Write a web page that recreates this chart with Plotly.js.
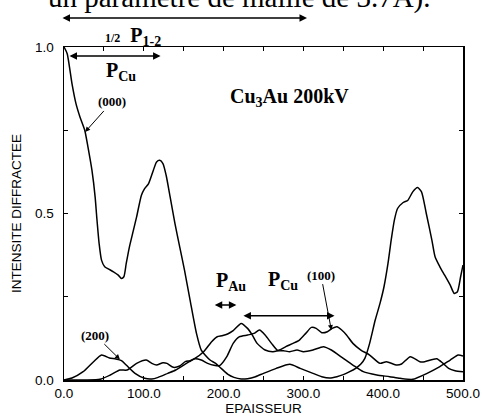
<!DOCTYPE html>
<html>
<head>
<meta charset="utf-8">
<script src="https://cdn.plot.ly/plotly-3.0.1.min.js"></script>
<style>body{margin:0;padding:0;background:#fff}#chart{width:482px;height:420px}</style>
</head>
<body>
<div id="chart"></div>
<script>
// thickness (EPAISSEUR) and diffracted intensity for each beam
var x000 = [0, 4, 10, 15, 20, 26, 30, 35, 39, 41, 44, 47, 51, 56, 62, 68, 72, 75, 78, 82, 87, 91, 97, 101, 106, 112, 116, 120, 124, 128, 133, 139, 145, 151, 158, 166, 172, 183, 190, 197, 205, 213, 222, 230, 240, 250, 266, 283, 296, 312, 323, 333, 342, 350, 358, 366, 372, 377, 383, 390, 396, 401, 406, 410, 414, 418, 425, 431, 437, 443, 448, 454, 461, 465, 471, 477, 484, 489, 493, 497, 500];
var y000 = [1.0, 0.98, 0.89, 0.83, 0.79, 0.75, 0.70, 0.63, 0.55, 0.49, 0.41, 0.36, 0.34, 0.333, 0.325, 0.315, 0.305, 0.31, 0.35, 0.40, 0.45, 0.49, 0.555, 0.575, 0.59, 0.63, 0.655, 0.66, 0.65, 0.615, 0.55, 0.47, 0.40, 0.33, 0.24, 0.14, 0.09, 0.06, 0.05, 0.035, 0.018, 0.008, 0.003, 0.004, 0.01, 0.02, 0.035, 0.047, 0.035, 0.02, 0.01, 0.006, 0.01, 0.016, 0.025, 0.036, 0.048, 0.065, 0.11, 0.18, 0.23, 0.28, 0.35, 0.42, 0.48, 0.515, 0.533, 0.54, 0.565, 0.578, 0.565, 0.50, 0.42, 0.37, 0.34, 0.315, 0.285, 0.26, 0.265, 0.31, 0.345];

var x100 = [0, 20, 28, 45, 58, 70, 79, 91, 103, 110, 116, 124, 129, 137, 145, 152, 158, 164, 175, 185, 192, 198, 205, 212, 222, 230, 236, 242, 252, 262, 270, 278, 287, 295, 303, 310, 316, 323, 330, 336, 342, 348, 354, 362, 372, 383, 396, 404, 417, 423, 434, 446, 452, 467, 475, 482, 490, 500];
var y100 = [0, 0, 0, 0.002, 0.015, 0.03, 0.03, 0.05, 0.06, 0.05, 0.045, 0.052, 0.05, 0.038, 0.042, 0.055, 0.058, 0.065, 0.085, 0.115, 0.13, 0.133, 0.138, 0.148, 0.17, 0.155, 0.135, 0.11, 0.09, 0.085, 0.09, 0.1, 0.11, 0.12, 0.14, 0.158, 0.155, 0.142, 0.145, 0.155, 0.16, 0.15, 0.135, 0.11, 0.09, 0.075, 0.05, 0.055, 0.045, 0.048, 0.07, 0.055, 0.055, 0.064, 0.05, 0.035, 0.028, 0.025];

var x200 = [0, 10, 24, 37, 47, 57, 65, 72, 78, 89, 101, 110, 118, 130, 140, 150, 157, 164, 172, 180, 188, 195, 204, 212, 220, 230, 238, 245, 252, 260, 268, 275, 283, 292, 300, 312, 325, 335, 350, 362, 375, 392, 408, 421, 437, 455, 471, 484, 494, 500];
var y200 = [0, 0.006, 0.025, 0.055, 0.075, 0.066, 0.063, 0.058, 0.045, 0.02, 0.005, 0.003, 0.008, 0.02, 0.03, 0.045, 0.055, 0.064, 0.06, 0.05, 0.044, 0.043, 0.07, 0.11, 0.13, 0.135, 0.14, 0.15, 0.135, 0.11, 0.088, 0.088, 0.085, 0.09, 0.085, 0.09, 0.1, 0.09, 0.065, 0.045, 0.025, 0.015, 0.01, 0.005, 0.002, 0.02, 0.04, 0.06, 0.075, 0.072];

var xTickVals = [0, 50, 100, 150, 200, 250, 300, 350, 400, 450, 500];
var xTickText = ['0.0', '', '100.0', '', '200.0', '', '300.0', '', '400.0', '', '500.0'];
var yTickVals = [0, 0.25, 0.5, 0.75, 1.0];
var yTickText = ['0.0', '', '0.5', '', '1.0'];

var line = {color: '#000', width: 1.5, shape: 'spline', smoothing: 0.6};
var traces = [
  {x: x000, y: y000, mode: 'lines', line: line, hoverinfo: 'none'},
  {x: x100, y: y100, mode: 'lines', line: line, hoverinfo: 'none'},
  {x: x200, y: y200, mode: 'lines', line: line, hoverinfo: 'none'}
];

var serif = 'Liberation Serif, Times New Roman, serif';
var sans = 'Liberation Sans, Arial, sans-serif';

function dblArrow(x0, x1, y) {
  return {xref: 'x', yref: 'y', axref: 'x', ayref: 'y', x: x1, y: y, ax: x0, ay: y,
    text: '', showarrow: true, arrowhead: 2, startarrowhead: 2, arrowside: 'end+start',
    arrowsize: 1, startarrowsize: 1, arrowwidth: 1.5, arrowcolor: '#000', standoff: 0, startstandoff: 0};
}
function label(txt, x, y, size) {
  return {xref: 'x', yref: 'y', x: x, y: y, text: txt, showarrow: false,
    font: {family: serif, size: size, color: '#000'}, xanchor: 'center', yanchor: 'middle'};
}
function pointer(txt, tx, ty, hx, hy, size) {
  return {xref: 'x', yref: 'y', axref: 'x', ayref: 'y', x: hx, y: hy, ax: tx, ay: ty,
    text: txt, showarrow: true, arrowhead: 2, arrowsize: 1, arrowwidth: 1, arrowcolor: '#000',
    standoff: 0, font: {family: serif, size: size, color: '#000'}};
}

var annotations = [
  {xref: 'paper', yref: 'paper', x: -0.045, y: 1.092, xanchor: 'left', yanchor: 'bottom', showarrow: false,
   text: 'un paramètre de maille de 3.7Å).', font: {family: serif, size: 29, color: '#000'}},
  {xref: 'paper', yref: 'paper', x: 0.609, y: 1.087, ax: -246, ay: 0,
   text: '', showarrow: true, arrowhead: 2, startarrowhead: 2, arrowside: 'end+start',
   arrowsize: 1, startarrowsize: 1, arrowwidth: 1.5, arrowcolor: '#000', standoff: 0, startstandoff: 0},
  {xref: 'paper', yref: 'paper', x: 0.173, y: 1.032, xanchor: 'center', yanchor: 'middle', showarrow: false,
   text: '<b><span style="font-size:12px">1/2</span>  P<sub>1-2</sub></b>', font: {family: serif, size: 20, color: '#000'}},
  dblArrow(5, 121, 0.973),
  label('<b>P<sub>Cu</sub></b>', 72, 0.925, 20),
  pointer('<b>(000)</b>', 60, 0.835, 26.5, 0.745, 13),
  label('<b>Cu<sub>3</sub>Au 200kV</b>', 283, 0.847, 20),
  label('<b>P<sub>Au</sub></b>', 209, 0.295, 20),
  dblArrow(187, 216, 0.225),
  label('<b>P<sub>Cu</sub></b>', 274, 0.298, 20),
  dblArrow(223, 339, 0.193),
  pointer('<b>(100)</b>', 322, 0.315, 335, 0.15, 13),
  pointer('<b>(200)</b>', 39, 0.135, 70, 0.062, 13)
];

var layout = {
  width: 482, height: 420,
  margin: {l: 64, r: 19, t: 47, b: 40},
  paper_bgcolor: '#fff', plot_bgcolor: '#fff',
  showlegend: false,
  xaxis: {range: [0, 500], tickvals: xTickVals, ticktext: xTickText, ticks: 'inside', ticklen: 4,
    tickcolor: '#000', tickwidth: 1, showgrid: false, zeroline: false, showline: true, linecolor: '#000',
    linewidth: 1.5, mirror: 'allticks', tickfont: {family: sans, size: 13.5, color: '#000'},
    title: {text: 'EPAISSEUR', font: {family: sans, size: 13.5, color: '#000'}, standoff: 2}},
  yaxis: {range: [0, 1.0], tickvals: yTickVals, ticktext: yTickText, ticks: 'inside', ticklen: 4,
    tickcolor: '#000', tickwidth: 1, showgrid: false, zeroline: false, showline: true, linecolor: '#000',
    linewidth: 1.5, mirror: 'allticks', ticklabelstandoff: 6, tickfont: {family: sans, size: 13.5, color: '#000'},
    title: {text: 'INTENSITE DIFFRACTEE', font: {family: sans, size: 13.5, color: '#000'}, standoff: 10}},
  annotations: annotations
};

Plotly.newPlot('chart', traces, layout, {displayModeBar: false, staticPlot: true});
</script>
</body>
</html>
